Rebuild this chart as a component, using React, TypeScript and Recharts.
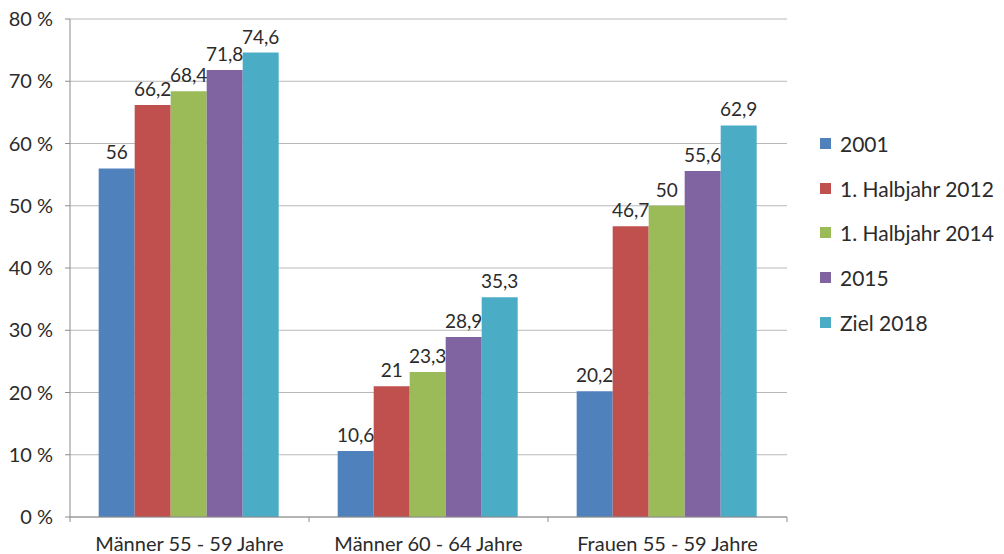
import { BarChart, Bar, XAxis, YAxis, CartesianGrid, LabelList } from "recharts";

const categories = ["Männer 55 - 59 Jahre", "Männer 60 - 64 Jahre", "Frauen 55 - 59 Jahre"];
const s2001 = [56, 10.6, 20.2];
const s2012 = [66.2, 21, 46.7];
const s2014 = [68.4, 23.3, 50];
const s2015 = [71.8, 28.9, 55.6];
const sZiel = [74.6, 35.3, 62.9];
const yTicks = [0, 10, 20, 30, 40, 50, 60, 70, 80];

const series = [
  { key: "s2001", name: "2001", color: "#4F81BD", values: s2001 },
  { key: "s2012", name: "1. Halbjahr 2012", color: "#C0504D", values: s2012 },
  { key: "s2014", name: "1. Halbjahr 2014", color: "#9BBB59", values: s2014 },
  { key: "s2015", name: "2015", color: "#8064A2", values: s2015 },
  { key: "sZiel", name: "Ziel 2018", color: "#4BACC6", values: sZiel },
];

const data = categories.map((cat, i) => {
  const row: any = { cat };
  series.forEach((s) => (row[s.key] = s.values[i]));
  return row;
});

const W = 1004;
const H = 554;
const M = { top: 19, right: 217, bottom: 7, left: 0 };
const Y_W = 70;
const band = (W - M.left - M.right - Y_W) / categories.length;
const FONT = "Lato, 'Open Sans', sans-serif";
const TEXT = "#2b2b2b";

const fmt = (v: any) => String(v).replace(".", ",");

// category label plus Excel-style tick marks on the band edges
function CatTick(props: any) {
  const { x, y, payload, index } = props;
  const left = x - band / 2;
  return (
    <g>
      <line x1={left} y1={y - 8} x2={left} y2={y - 3} stroke="#8c8c8c" />
      {index === categories.length - 1 && (
        <line x1={x + band / 2} y1={y - 8} x2={x + band / 2} y2={y - 3} stroke="#8c8c8c" />
      )}
      <text x={x} y={y + 26} textAnchor="middle" fontSize={20} fill={TEXT} fontFamily={FONT}>
        {payload.value}
      </text>
    </g>
  );
}

function LegendBox() {
  return (
    <div
      style={{
        position: "absolute",
        left: 820,
        top: 121,
        fontFamily: FONT,
        fontSize: 21,
        color: TEXT,
      }}
    >
      {series.map((s) => (
        <div key={s.key} style={{ display: "flex", alignItems: "center", height: 44.75 }}>
          <span
            style={{ width: 11, height: 11, background: s.color, marginRight: 9, display: "inline-block" }}
          />
          {s.name}
        </div>
      ))}
    </div>
  );
}

export default function App() {
  return (
    <div style={{ position: "absolute", left: 0, top: 0, width: W, height: H, background: "#fff" }}>
      <BarChart width={W} height={H} data={data} margin={M} barGap={0} barCategoryGap="12%">
        <CartesianGrid vertical={false} stroke="#b8b8b8" />
        <XAxis dataKey="cat" stroke="#8c8c8c" tickLine={false} tick={<CatTick />} interval={0} />
        <YAxis
          width={Y_W}
          domain={[0, 80]}
          ticks={yTicks}
          stroke="#8c8c8c"
          tickSize={5}
          tickMargin={12}
          tickFormatter={(v: number) => `${v} %`}
          tick={{ fontSize: 20, fill: TEXT, fontFamily: FONT }}
        />
        {series.map((s) => (
          <Bar key={s.key} dataKey={s.key} name={s.name} fill={s.color} isAnimationActive={false}>
            <LabelList
              dataKey={s.key}
              position="top"
              offset={9}
              formatter={fmt}
              style={{ fontSize: 19, fill: TEXT, fontFamily: FONT }}
            />
          </Bar>
        ))}
      </BarChart>
      <LegendBox />
    </div>
  );
}
